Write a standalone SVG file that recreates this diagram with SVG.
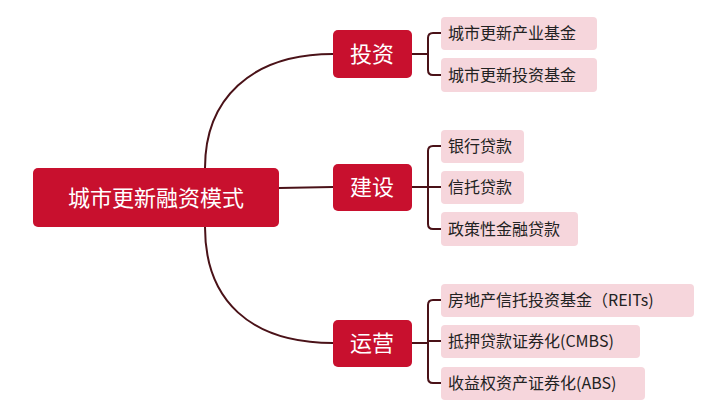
<svg xmlns="http://www.w3.org/2000/svg" width="724" height="412" viewBox="0 0 724 412">
<style>
.r{fill:#c8102e;}
.l{fill:#f6d6dc;}
.t{font-family:"Noto Sans CJK SC","Noto Sans",sans-serif;fill:#fff;}
.lt{font-family:"Noto Sans CJK SC","Noto Sans",sans-serif;fill:#222;font-size:16px;}
.c{fill:none;stroke:#4a1218;stroke-width:2;}
</style>
<rect width="724" height="412" fill="#fff"/>
<g id="connectors">
<path class="c" d="M205 168 C205 100 250 54 333 54"/>
<path class="c" d="M279 188 L333 187"/>
<path class="c" d="M205 227 C205 300 250 343 333 343"/>
<path class="c" d="M412 54 L428 54 M433 33 Q428 33 428 38 L428 70 Q428 75 433 75 L441 75 M433 33 L441 33"/>
<path class="c" d="M412 187 L428 187 M433 146 Q428 146 428 151 L428 224 Q428 229 433 229 L441 229 M433 146 L441 146 M428 187 L441 187"/>
<path class="c" d="M412 343 L428 343 M433 300 Q428 300 428 305 L428 378 Q428 383 433 383 L441 383 M433 300 L441 300 M428 341 L441 341"/>
</g>
<g id="root"><rect class="r" x="33" y="168" width="246" height="59" rx="5"/><text class="t" x="156" y="206" font-size="22" text-anchor="middle">城市更新融资模式</text></g>
<g id="b1"><rect class="r" x="333" y="30" width="79" height="48" rx="5"/><text class="t" x="372" y="62" font-size="22" text-anchor="middle">投资</text></g>
<g id="b2"><rect class="r" x="333" y="164" width="79" height="47" rx="5"/><text class="t" x="372" y="195" font-size="22" text-anchor="middle">建设</text></g>
<g id="b3"><rect class="r" x="333" y="320" width="79" height="47" rx="5"/><text class="t" x="372" y="351" font-size="22" text-anchor="middle">运营</text></g>
<g id="l1"><rect class="l" x="441" y="17" width="156" height="33" rx="4"/><text class="lt" x="448" y="39">城市更新产业基金</text></g>
<g id="l2"><rect class="l" x="441" y="58" width="156" height="34" rx="4"/><text class="lt" x="448" y="81">城市更新投资基金</text></g>
<g id="l3"><rect class="l" x="441" y="130" width="83" height="33" rx="4"/><text class="lt" x="448" y="152">银行贷款</text></g>
<g id="l4"><rect class="l" x="441" y="171" width="83" height="33" rx="4"/><text class="lt" x="448" y="193">信托贷款</text></g>
<g id="l5"><rect class="l" x="441" y="212" width="137" height="34" rx="4"/><text class="lt" x="448" y="235">政策性金融贷款</text></g>
<g id="l6"><rect class="l" x="441" y="284" width="253" height="33" rx="4"/><text class="lt" x="448" y="306">房地产信托投资基金（REITs)</text></g>
<g id="l7"><rect class="l" x="441" y="325" width="199" height="33" rx="4"/><text class="lt" x="448" y="347">抵押贷款证券化(CMBS)</text></g>
<g id="l8"><rect class="l" x="441" y="367" width="204" height="33" rx="4"/><text class="lt" x="448" y="389">收益权资产证券化(ABS)</text></g>
</svg>
